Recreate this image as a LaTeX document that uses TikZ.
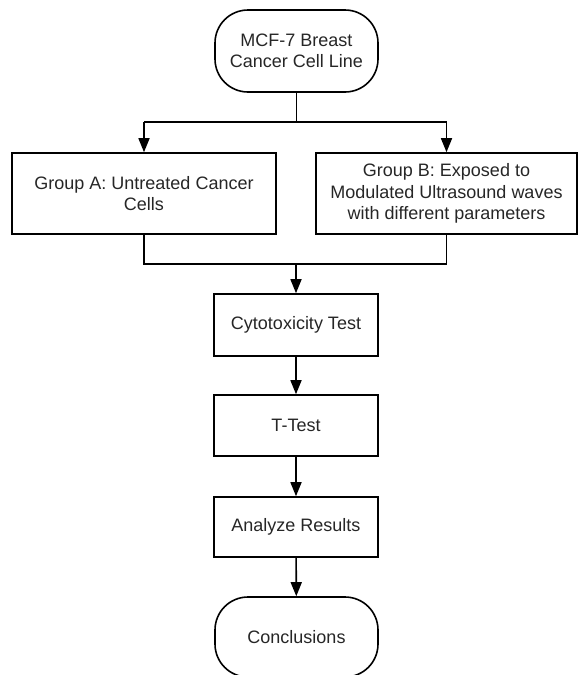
\documentclass[tikz,border=0pt]{standalone}
\usepackage{fontspec}
\setmainfont{Liberation Sans}
\usetikzlibrary{arrows.meta}
\begin{document}
\begin{tikzpicture}[x=1pt,y=-1pt,
  every node/.style={font=\fontsize{18}{21.5}\selectfont, text=black!85, align=center, inner sep=0pt},
  box/.style={draw, line width=1.6pt, rectangle},
  term/.style={draw, line width=1.6pt, rectangle, rounded corners=33pt},
  conn/.style={line width=1.6pt},
  arr/.style={line width=1.6pt, -{Triangle[length=14pt,width=11pt]}}]
\useasboundingbox (0,0) rectangle (578,675);
\clip (0,0) rectangle (578,675);
\node[term, minimum width=163pt, minimum height=82pt] (top) at (296.5,51) {MCF-7 Breast\\Cancer Cell Line};
\node[box, minimum width=264pt, minimum height=81pt] (A) at (144,193.5) {Group A: Untreated Cancer\\Cells};
\node[box, minimum width=261pt, minimum height=81pt] (B) at (446.5,193.5) {Group B: Exposed to\\Modulated Ultrasound waves\\with different parameters};
\node[box, minimum width=164pt, minimum height=62pt] (cyto) at (296,325) {Cytotoxicity Test};
\node[box, minimum width=164pt, minimum height=61pt] (tt) at (296,425.5) {T-Test};
\node[box, minimum width=164pt, minimum height=60pt] (an) at (296,527) {Analyze Results};
\node[term, minimum width=163pt, minimum height=80pt] (con) at (296.5,637) {Conclusions};
\coordinate (sp) at (296.5,122);
\coordinate (mg) at (296,264);
\draw[conn] (top.south) -- (sp);
\draw[conn] (A.north |- sp) -- (B.north |- sp);
\draw[arr] (A.north |- sp) -- (A.north);
\draw[arr] (B.north |- sp) -- (B.north);
\draw[conn] (A.south) |- (mg) -| (B.south);
\draw[arr] (mg) -- (cyto.north);
\draw[arr] (cyto) -- (tt);
\draw[arr] (tt) -- (an);
\draw[arr] (an) -- (con);
\end{tikzpicture}
\end{document}
